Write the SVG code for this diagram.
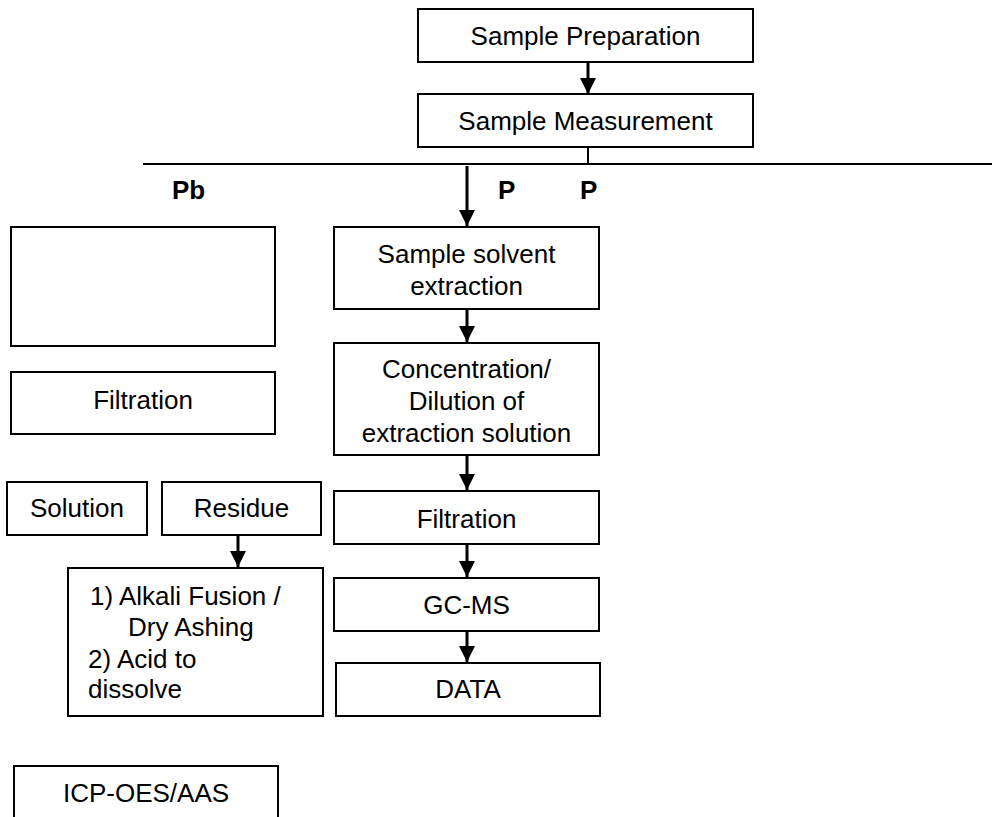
<svg xmlns="http://www.w3.org/2000/svg" width="992" height="817" viewBox="0 0 992 817">
<defs>
<marker id="ah" markerUnits="userSpaceOnUse" markerWidth="16" markerHeight="16" refX="16" refY="8" orient="auto">
<path d="M0,0 L16,8 L0,16 Z" fill="#000"/>
</marker>
<style>
.box{fill:#fff;stroke:#000;stroke-width:2}
.t{font-family:"Liberation Sans",Arial,sans-serif;font-size:26px;fill:#000}
.c{text-anchor:middle}
.b{font-weight:bold}
.arr{stroke:#000;stroke-width:3;fill:none;marker-end:url(#ah)}
.ln{stroke:#000;stroke-width:2;fill:none}
</style>
</defs>
<rect width="992" height="817" fill="#fff"/>
<g id="connectors">
<path class="arr" d="M588,62 V94"/>
<path class="ln" d="M588,147 V164" stroke-width="1.5"/>
<path class="ln" d="M143,164 H992"/>
<path class="arr" d="M467,166 V226"/>
<path class="arr" d="M467,309 V342"/>
<path class="arr" d="M467,455 V490"/>
<path class="arr" d="M467,544 V577"/>
<path class="arr" d="M467,631 V662"/>
<path class="arr" d="M238,536 V567"/>
</g>
<g id="n-prep"><rect class="box" x="418" y="9" width="335" height="53"/><text class="t c" x="585.5" y="45">Sample Preparation</text></g>
<g id="n-meas"><rect class="box" x="418" y="94" width="335" height="53"/><text class="t c" x="585.5" y="130">Sample Measurement</text></g>
<g id="labels">
<text class="t b" x="172" y="199">Pb</text>
<text class="t b" x="498" y="199">P</text>
<text class="t b" x="580" y="199">P</text>
</g>
<g id="n-empty"><rect class="box" x="11" y="227" width="264" height="119"/></g>
<g id="n-filt-left"><rect class="box" x="11" y="372" width="264" height="62"/><text class="t c" x="143" y="409">Filtration</text></g>
<g id="n-solution"><rect class="box" x="7" y="482" width="140" height="53"/><text class="t c" x="77" y="517">Solution</text></g>
<g id="n-residue"><rect class="box" x="162" y="482" width="159" height="53"/><text class="t c" x="241.5" y="517">Residue</text></g>
<g id="n-alkali"><rect class="box" x="68" y="568" width="255" height="148"/>
<text class="t" x="90" y="605">1) Alkali Fusion /</text>
<text class="t" x="128" y="636">Dry Ashing</text>
<text class="t" x="88" y="668">2) Acid to</text>
<text class="t" x="88" y="698">dissolve</text>
</g>
<g id="n-icp"><rect class="box" x="14" y="766" width="264" height="60"/><text class="t c" x="146" y="802">ICP-OES/AAS</text></g>
<g id="n-extract"><rect class="box" x="334" y="227" width="265" height="82"/><text class="t c" x="466.5" y="263">Sample solvent</text><text class="t c" x="466.5" y="295">extraction</text></g>
<g id="n-conc"><rect class="box" x="334" y="343" width="265" height="112"/><text class="t c" x="466.5" y="378">Concentration/</text><text class="t c" x="466.5" y="410">Dilution of</text><text class="t c" x="466.5" y="442">extraction solution</text></g>
<g id="n-filt"><rect class="box" x="334" y="491" width="265" height="53"/><text class="t c" x="466.5" y="528">Filtration</text></g>
<g id="n-gcms"><rect class="box" x="334" y="578" width="265" height="53"/><text class="t c" x="466.5" y="614">GC-MS</text></g>
<g id="n-data"><rect class="box" x="336" y="663" width="264" height="53"/><text class="t c" x="468" y="698">DATA</text></g>
</svg>
